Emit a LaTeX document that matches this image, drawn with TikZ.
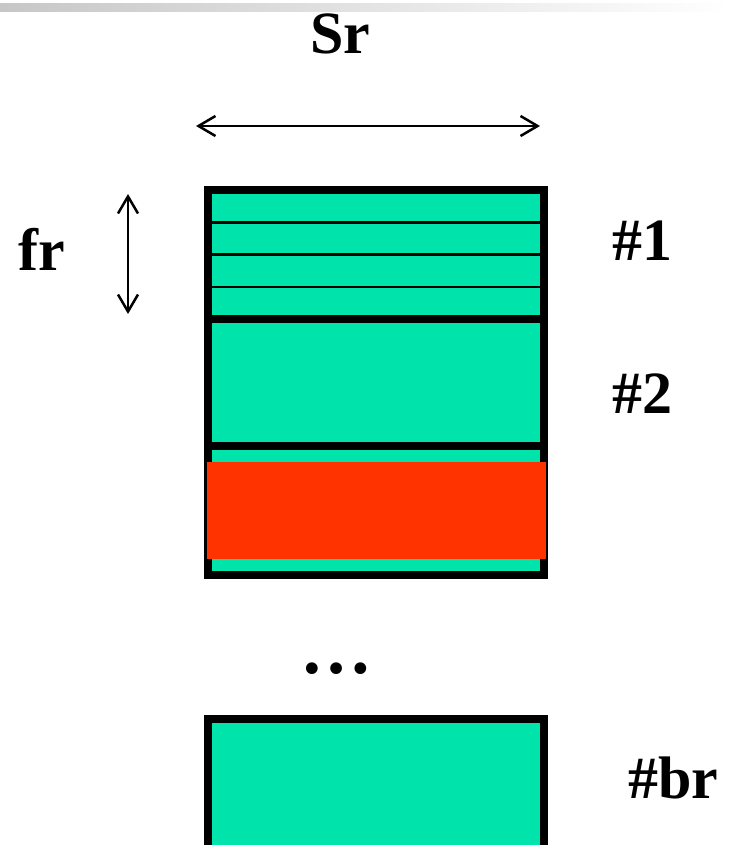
\documentclass[tikz,border=0pt]{standalone}
\usepackage{fontspec}
\setmainfont{Liberation Serif}
\usepackage{xcolor}
\usetikzlibrary{arrows.meta,calc}

\definecolor{slotgreen}{HTML}{00E3AA}
\definecolor{hotred}{HTML}{FF3300}

\tikzset{
  bufbox/.style = {draw, fill=slotgreen, line width=8pt, minimum width=336pt, inner sep=0pt, outer sep=0pt},
  rowline/.style = {line width=2.5pt},
  dimarrow/.style = {{Straight Barb[length=17pt,width=20pt,line width=2.5pt]}-{Straight Barb[length=17pt,width=20pt,line width=2.5pt]}, line width=2.5pt},
  lbl/.style = {font=\bfseries\fontsize{60}{70}\selectfont, anchor=base, inner sep=0pt}
}

\begin{document}
\begin{tikzpicture}[x=1pt, y=-1pt]
        \useasboundingbox (0,0) rectangle (729,845);
        \clip (0,0) rectangle (729,845);
        % faded rule along the top
        \shade[left color=black!22, right color=white] (0,4) rectangle (729,12);

        % width of a buffer
        \coordinate (sw) at (196,126);
        \coordinate (se) at (540,126);
        \draw[dimarrow] (sw) -- (se);
        \node[lbl] (sr) at (340,54) {Sr};

        % buffers
        \node[bufbox, minimum height=129pt] (b1) at (376,254.5) {};
        \node[bufbox, minimum height=127pt] (b2) at (376,382.5) {};
        \node[bufbox, minimum height=128.5pt] (b3) at (376,510.25) {};
        \node[bufbox, minimum height=130pt] (b4) at (376,784) {};
        \foreach \k in {1,2,3}
            \draw[rowline] ($(b1.north west)!\k/4!(b1.south west)$) -- ($(b1.north east)!\k/4!(b1.south east)$);
        \fill[hotred] (207,462) rectangle (546,559);

        % height of a frame
        \coordinate (ft) at (128,194);
        \coordinate (fb) at (128,314);
        \draw[dimarrow] (ft) -- (fb);
        \node[lbl] (fr) at (42,270) {fr};

        \node[lbl] (n1) at (642,260) {\#1};
        \node[lbl] (n2) at (642,413) {\#2};
        \node[lbl, font=\bfseries\fontsize{72}{80}\selectfont] (dots) at (336,673) {…};
        \node[lbl] (nbr) at (673,798) {\#br};
\end{tikzpicture}
\end{document}
